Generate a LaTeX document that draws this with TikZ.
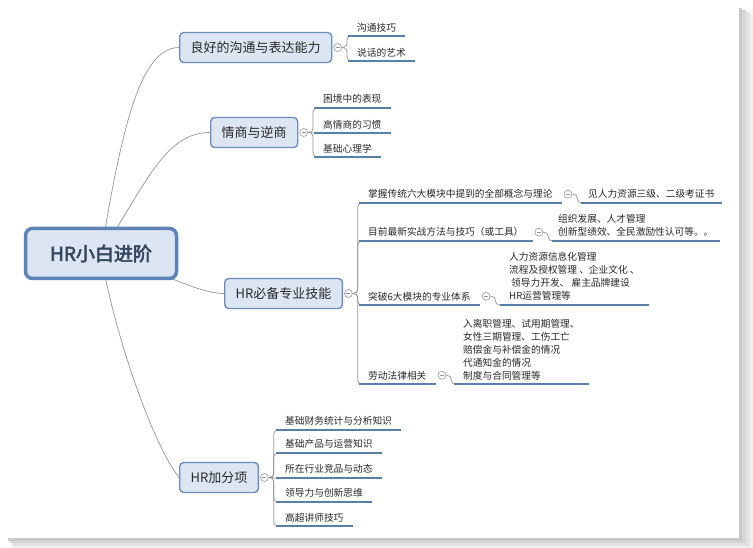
\documentclass[tikz,border=0pt]{standalone}
\usepackage{fontspec}
\setmainfont{Noto Sans CJK SC}[AutoFakeBold=3]
\usepackage{tikz}
\usetikzlibrary{positioning,backgrounds}
\definecolor{topicfill}{RGB}{220,230,242}
\definecolor{topicline}{RGB}{108,142,188}
\definecolor{rootline}{RGB}{92,132,184}
\definecolor{roottext}{RGB}{55,70,95}
\definecolor{ulineblue}{RGB}{88,126,170}
\definecolor{linkgray}{RGB}{150,150,150}
\definecolor{inkgray}{RGB}{40,40,40}
\newcommand{\leaffont}{\fontsize{9.7}{13}\selectfont}
\newcommand{\topicfont}{\fontsize{13}{15}\selectfont}

\begin{document}
\begin{tikzpicture}[x=1pt, y=-1pt,
  rootbox/.style={draw=rootline, fill=topicfill, line width=3.5pt, rounded corners=7pt,
    minimum width=151pt, minimum height=50pt, font=\bfseries\fontsize{19}{21}\selectfont, text=roottext},
  topic/.style={draw=topicline, fill=topicfill, line width=1.4pt, rounded corners=4pt,
    anchor=west, inner xsep=11pt, minimum height=30pt, font=\topicfont, text=inkgray},
  leaf/.style={anchor=south west, inner xsep=9pt, inner ysep=4pt, align=left, font=\leaffont, text=inkgray},
  toggle/.style={circle, draw=linkgray, fill=white, line width=0.6pt, inner sep=0pt, minimum size=8pt,
    path picture={\draw[linkgray, line width=0.6pt] ([xshift=-2pt]path picture bounding box.center)
      -- ([xshift=2pt]path picture bounding box.center);}},
  link/.style={draw=linkgray, line width=0.7pt},
  fork/.style={draw=linkgray, line width=0.7pt, rounded corners=4pt},
  uline/.style={draw=ulineblue, line width=2.4pt}
]
  \useasboundingbox (0,0) rectangle (753,548);

  % root
  \node[rootbox] (root) at (101,253.5) {HR小白进阶};

  % branch 1: communication
  \node[topic] (b1) at (179,47.5) {良好的沟通与表达能力};
  \node[toggle, right=1pt of b1] (t1) {};
  \node[leaf] (a1) at (348,36) {沟通技巧};
  \node[leaf] (a2) at (348,61) {说话的艺术};
  \draw[fork] (t1.east) -- ++(5,0) |- (a1.south west);
  \draw[fork] (t1.east) -- ++(5,0) |- (a2.south west);

  % branch 2: EQ / AQ
  \node[topic] (b2) at (210,132.5) {情商与逆商};
  \node[toggle, right=1pt of b2] (t2) {};
  \node[leaf] (e1) at (314,108) {困境中的表现};
  \node[leaf] (e2) at (314,133) {高情商的习惯};
  \node[leaf] (e3) at (314,157) {基础心理学};
  \draw[fork] (t2.east) -- ++(5,0) |- (e1.south west);
  \draw[link] (t2.east) -- (e2.south west);
  \draw[fork] (t2.east) -- ++(5,0) |- (e3.south west);

  % branch 3: professional skills
  \node[topic] (b3) at (224,293.5) {HR必备专业技能};
  \node[toggle, right=1pt of b3] (t3) {};
  \node[leaf] (s1) at (359,203) {掌握传统六大模块中提到的全部概念与理论};
  \node[leaf] (s2) at (359,241) {目前最新实战方法与技巧（或工具）};
  \node[leaf] (s3) at (359,305) {突破6大模块的专业体系};
  \node[leaf] (s4) at (359,384) {劳动法律相关};
  \foreach \s in {s1,s2,s3,s4}
    \draw[fork] (t3.east) -- ++(5,0) |- (\s.south west);

  \node[toggle, right=2pt of s1] (t31) {};
  \node[toggle, right=2pt of s2] (t32) {};
  \node[toggle, right=2pt of s3] (t33) {};
  \node[toggle, right=2pt of s4] (t34) {};
  \node[leaf, inner xsep=7pt] (l1) at (581,203) {见人力资源三级、二级考证书};
  \node[leaf, inner xsep=6pt] (l2) at (552,241) {组织发展、人才管理\\创新型绩效、全民激励性认可等。。};
  \node[leaf] (l3) at (500,305) {人力资源信息化管理\\流程及授权管理 、企业文化 、\\\hspace{2pt}领导力开发、 雇主品牌建设\\HR运营管理等};
  \node[leaf] (l4) at (454,384) {入离职管理、试用期管理、\\女性三期管理、工伤工亡\\赔偿金与补偿金的情况\\代通知金的情况\\制度与合同管理等};
  \draw[fork] (t31.east) -- ++(5,0) |- (l1.south west);
  \draw[fork] (t32.east) -- ++(5,0) |- (l2.south west);
  \draw[fork] (t33.east) -- ++(5,0) |- (l3.south west);
  \draw[fork] (t34.east) -- ++(5,0) |- (l4.south west);

  % branch 4: extras
  \node[topic] (b4) at (179,477.5) {HR加分项};
  \node[toggle, right=1pt of b4] (t4) {};
  \node[leaf] (d1) at (276,430) {基础财务统计与分析知识};
  \node[leaf] (d2) at (276,453) {基础产品与运营知识};
  \node[leaf] (d3) at (276,478) {所在行业竞品与动态};
  \node[leaf] (d4) at (276,502) {领导力与创新思维};
  \node[leaf] (d5) at (276,526) {高超讲师技巧};
  \foreach \d in {d1,d2,d4,d5}
    \draw[fork] (t4.east) -- ++(5,0) |- (\d.south west);
  \draw[link] (t4.east) -- (d3.south west);

  % underlines of the leaf topics
  \foreach \n in {a1,a2,e1,e2,e3,s1,s2,s3,s4,l1,l2,l3,l4,d1,d2,d3,d4,d5}
    \draw[uline] (\n.south west) -- (\n.south east);

  \begin{scope}[on background layer]
    % page with soft shadow
    \fill[white] (0,0) rectangle (753,548);
    \fill[gray!12] (14,14) rectangle (753,548);
    \fill[gray!22] (12,12) rectangle (750,546);
    \fill[gray!32] (10,10) rectangle (746,543);
    \fill[gray!42] (8,8) rectangle (742,541);
    \fill[white] (0,0) rectangle (739,538);
    % root connectors
    \draw[link] (root.center) .. controls +(20,-120) and +(-40,0) .. (b1.west);
    \draw[link] (root.center) .. controls +(45,-70) and +(-45,0) .. (b2.west);
    \draw[link] (root.center) .. controls +(49,12) and +(-29,0) .. (b3.west);
    \draw[link] (root.center) .. controls +(10,67) and +(-29,-37) .. (b4.west);
  \end{scope}
\end{tikzpicture}
\end{document}
